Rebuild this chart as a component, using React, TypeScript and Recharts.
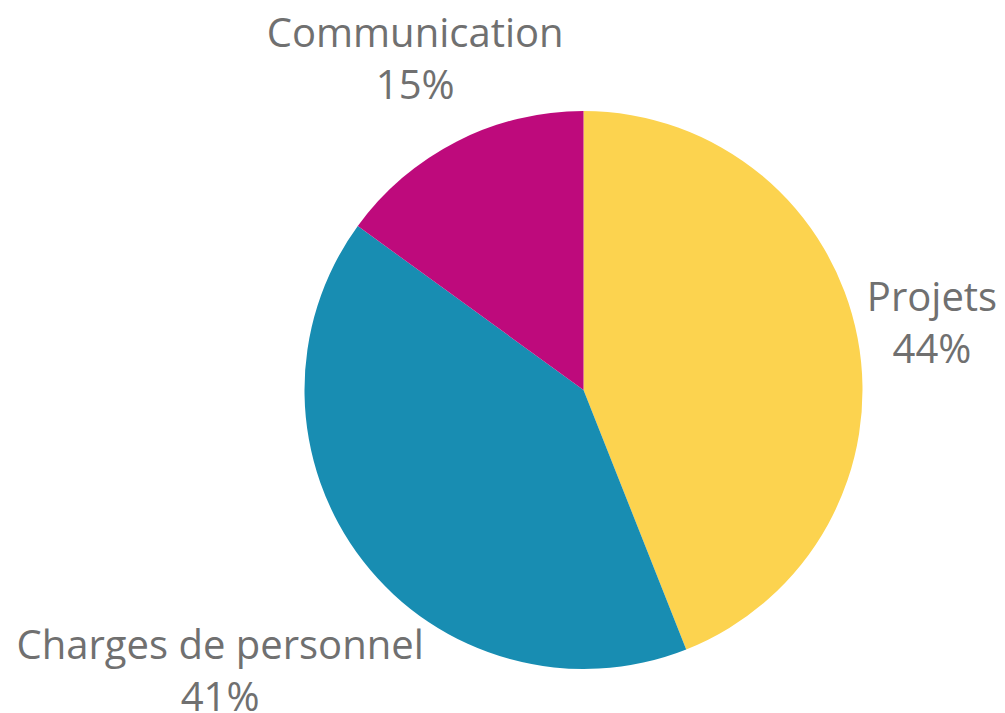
import React from 'react';
import { PieChart, Pie, Cell } from 'recharts';

const categories = ['Projets', 'Charges de personnel', 'Communication'];
const shares = [44, 41, 15];
const colors = ['#FCD34F', '#188DB2', '#BE0A7C'];

const data = categories.map((name, i) => ({ name, value: shares[i] }));

const FONT_SIZE = 40;
const LINE_GAP = 52;
const TEXT_COLOR = '#707070';
const FONT = "'Open Sans', sans-serif";

let ctx: CanvasRenderingContext2D | null = null;
const textWidth = (s: string) => {
  if (!ctx) ctx = document.createElement('canvas').getContext('2d');
  if (ctx) {
    ctx.font = `${FONT_SIZE}px 'Open Sans'`;
    return ctx.measureText(s).width;
  }
  return s.length * FONT_SIZE * 0.55;
};

// label box pushed out along the mid-angle until it clears the pie
const OutsideLabel = (props: any) => {
  const { cx, cy, midAngle, outerRadius, name, percent } = props;
  const pct = `${Math.round(percent * 100)}%`;
  const w = Math.max(textWidth(name), textWidth(pct));
  const h = 94;
  const rad = (-midAngle * Math.PI) / 180;
  const dx = Math.cos(rad);
  const dy = Math.sin(rad);
  const clear = outerRadius + 5;

  const nearest = (t: number) => {
    const bx = t * dx;
    const by = t * dy;
    const nx = Math.max(bx - w / 2, Math.min(0, bx + w / 2));
    const ny = Math.max(by - h / 2, Math.min(0, by + h / 2));
    return Math.hypot(nx, ny);
  };
  let lo = 0;
  let hi = 1000;
  for (let i = 0; i < 40; i++) {
    const mid = (lo + hi) / 2;
    if (nearest(mid) < clear) lo = mid;
    else hi = mid;
  }
  const x = cx + hi * dx;
  const y = cy + hi * dy;

  return (
    <text
      x={x}
      y={y - 13}
      textAnchor="middle"
      fill={TEXT_COLOR}
      fontSize={FONT_SIZE}
      fontFamily={FONT}
    >
      <tspan x={x} y={y - 13}>{name}</tspan>
      <tspan x={x} y={y - 13 + LINE_GAP}>{pct}</tspan>
    </text>
  );
};

export default function App() {
  return (
    <div style={{ position: 'absolute', left: 0, top: 0, background: '#fff' }}>
      <PieChart width={1005} height={713} margin={{ top: 0, right: 0, bottom: 0, left: 0 }}>
        <Pie
          data={data}
          dataKey="value"
          nameKey="name"
          cx={583.5}
          cy={390}
          outerRadius={279}
          startAngle={90}
          endAngle={-270}
          stroke="none"
          labelLine={false}
          label={OutsideLabel}
          isAnimationActive={false}
        >
          {data.map((d, i) => (
            <Cell key={d.name} fill={colors[i]} />
          ))}
        </Pie>
      </PieChart>
    </div>
  );
}
